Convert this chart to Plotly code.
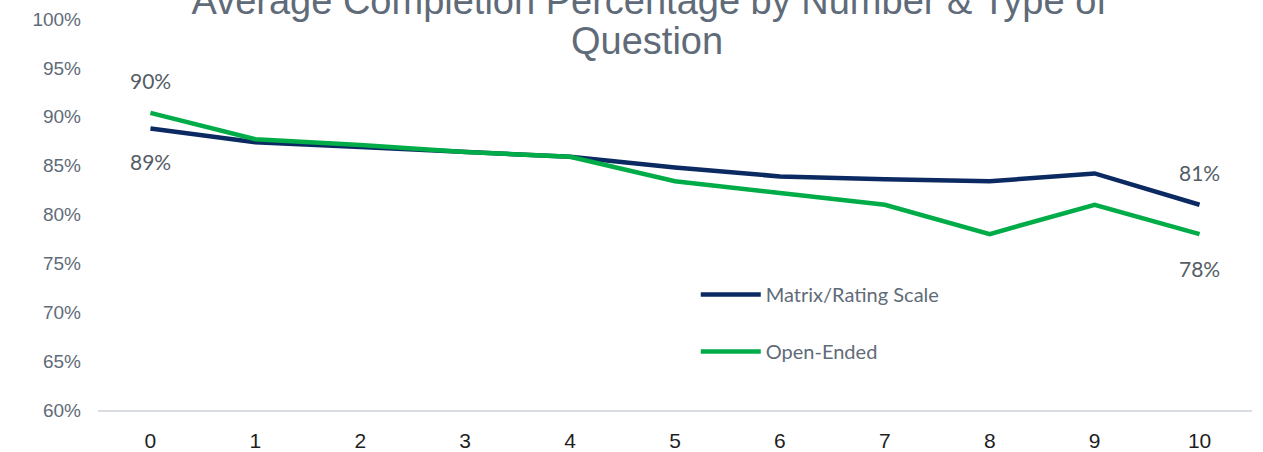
import plotly.graph_objects as go

questions = [0, 1, 2, 3, 4, 5, 6, 7, 8, 9, 10]
matrix_rating = [0.888, 0.874, 0.869, 0.864, 0.859, 0.848, 0.839, 0.836, 0.834, 0.842, 0.810]
open_ended = [0.904, 0.877, 0.871, 0.864, 0.859, 0.834, 0.822, 0.810, 0.780, 0.810, 0.780]
yticks = [0.60, 0.65, 0.70, 0.75, 0.80, 0.85, 0.90, 0.95, 1.00]
title_line1 = "Average Completion Percentage by Number & Type of"
title_line2 = "Question"

NAVY = "#0b2a62"
GREEN = "#00ac47"
GRAY = "#5f6b78"
LABEL = "#545d66"

fig = go.Figure()
fig.add_trace(go.Scatter(x=questions, y=matrix_rating, mode="lines", name="Matrix/Rating Scale",
                         line=dict(color=NAVY, width=4.5), legendgroup="a"))
fig.add_trace(go.Scatter(x=questions, y=open_ended, mode="lines", name="Open-Ended",
                         line=dict(color=GREEN, width=4.5), legendgroup="b"))

lab_font = dict(family="Lato, Inter, sans-serif", size=21, color=LABEL)
fig.add_annotation(x=questions[0], y=open_ended[0], text=f"{open_ended[0]:.0%}", showarrow=False, yshift=32, font=lab_font)
fig.add_annotation(x=questions[0], y=matrix_rating[0], text=f"{matrix_rating[0]:.0%}", showarrow=False, yshift=-33, font=lab_font)
fig.add_annotation(x=questions[-1], y=matrix_rating[-1], text=f"{matrix_rating[-1]:.0%}", showarrow=False, yshift=32, font=lab_font)
fig.add_annotation(x=questions[-1], y=open_ended[-1], text=f"{open_ended[-1]:.0%}", showarrow=False, yshift=-34, font=lab_font)

title_font = dict(family="Liberation Sans, Arial, sans-serif", size=38, color=GRAY)
# second title line (tight line spacing as in the reference)
fig.add_annotation(xref="paper", yref="paper", x=0.476, y=1.0 + (19 - 41) / 391.0,
                   text=title_line2, showarrow=False, xanchor="center", yanchor="middle",
                   font=title_font)

fig.update_layout(
    width=1263, height=452,
    margin=dict(l=98, r=11, t=19, b=42),
    paper_bgcolor="white", plot_bgcolor="white",
    title=dict(text=title_line1,
               x=0.514, xanchor="center", y=1.0 - 1 / 452, yref="container", yanchor="middle",
               font=title_font, automargin=False),
    showlegend=True,
    legend=dict(x=0.518, y=0.345, xanchor="left", yanchor="top",
                font=dict(family="Lato, Inter, sans-serif", size=20, color=GRAY),
                bgcolor="rgba(0,0,0,0)", tracegroupgap=28, itemwidth=60),
    xaxis=dict(type="category", range=[-0.5, 10.5], showgrid=False, showline=True,
               linecolor="#d9dde2", linewidth=2, zeroline=False, automargin=False,
               tickfont=dict(family="Liberation Sans, Arial, sans-serif", size=21, color="#1f1f1f"),
               ticks="outside", ticklen=11, tickcolor="rgba(0,0,0,0)"),
    yaxis=dict(range=[0.6, 1.0], tickvals=yticks, tickformat=".0%", showgrid=False,
               zeroline=False, showline=False, automargin=False,
               tickfont=dict(family="Liberation Sans, Arial, sans-serif", size=19, color=GRAY),
               ticklabelstandoff=16),
)

fig.write_html("out.html")
